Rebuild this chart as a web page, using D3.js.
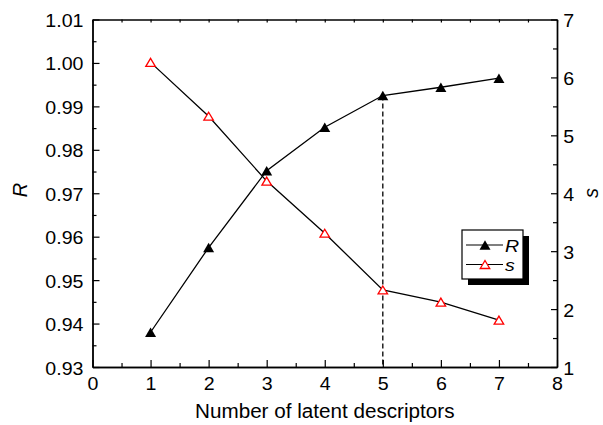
<!DOCTYPE html>
<html>
<head>
<meta charset="utf-8">
<script src="https://cdn.jsdelivr.net/npm/d3@7"></script>
<style>
  html, body { margin: 0; padding: 0; background: #fff; }
  svg { display: block; }
  text { font-family: "Liberation Sans", Arial, Helvetica, sans-serif; fill: #000; }
</style>
</head>
<body>
<svg id="chart" width="603" height="425"></svg>
<script>
// ---- data ----
const descriptors = [1, 2, 3, 4, 5, 6, 7];
const Rvalues = [0.938, 0.9575, 0.9752, 0.9852, 0.9925, 0.9944, 0.9965];
const Svalues = [6.26, 5.33, 4.21, 3.31, 2.33, 2.12, 1.81];
const xTicks = [0, 1, 2, 3, 4, 5, 6, 7, 8];
const leftTicks = [0.93, 0.94, 0.95, 0.96, 0.97, 0.98, 0.99, 1.00, 1.01];
const rightTicks = [1, 2, 3, 4, 5, 6, 7];
const selectedN = 5;

// ---- layout ----
const svg = d3.select("#chart");
const L = 92.5, Rr = 557, T = 19.5, B = 367;
const SX = 1.06; // horizontal stretch of text in the reference
const FS = "18.5px";

const x = d3.scaleLinear().domain([0, 8]).range([L, Rr]);
const yL = d3.scaleLinear().domain([0.93, 1.01]).range([B, T]);
const yR = d3.scaleLinear().domain([1, 7]).range([B, T]);

const minorX = d3.range(0, 8.01, 0.5).filter(v => v % 1 !== 0);
const minorL = d3.range(0, 8).map(i => 0.935 + i * 0.01);
const minorR = d3.range(1, 7).map(v => v + 0.5);

function styleAxis(g) {
  g.selectAll("path.domain").attr("stroke", "#000").attr("stroke-width", 1.4);
  g.selectAll("line").attr("stroke", "#000").attr("stroke-width", 1.2);
  g.selectAll("text").style("font-size", FS).attr("fill", "#000")
    .attr("font-family", "Liberation Sans, Arial, sans-serif");
}

// bottom axis
const gB = svg.append("g").attr("transform", `translate(0,${B})`)
  .call(d3.axisBottom(x).tickValues(xTicks).tickFormat(d3.format("d"))
    .tickSize(-7).tickSizeOuter(0).tickPadding(10));
styleAxis(gB);
gB.selectAll("text").attr("transform", `scale(${SX},1)`);
const gBm = svg.append("g").attr("transform", `translate(0,${B})`)
  .call(d3.axisBottom(x).tickValues(minorX).tickFormat("").tickSize(-4).tickSizeOuter(0));
styleAxis(gBm);

// top axis (ticks only)
const gT = svg.append("g").attr("transform", `translate(0,${T})`)
  .call(d3.axisTop(x).tickValues(d3.range(0, 8.01, 0.5)).tickFormat("").tickSize(-3).tickSizeOuter(0));
styleAxis(gT);

// left axis
const gL = svg.append("g").attr("transform", `translate(${L},0)`)
  .call(d3.axisLeft(yL).tickValues(leftTicks).tickFormat(d3.format(".2f"))
    .tickSize(-7).tickSizeOuter(0).tickPadding(8.5));
styleAxis(gL);
gL.selectAll("text").attr("dy", "0.38em").attr("transform", `scale(${SX},1)`);
const gLm = svg.append("g").attr("transform", `translate(${L},0)`)
  .call(d3.axisLeft(yL).tickValues(minorL).tickFormat("").tickSize(-4).tickSizeOuter(0));
styleAxis(gLm);

// right axis
const gR = svg.append("g").attr("transform", `translate(${Rr},0)`)
  .call(d3.axisRight(yR).tickValues(rightTicks).tickFormat(d3.format("d"))
    .tickSize(-6).tickSizeOuter(0).tickPadding(6));
styleAxis(gR);
gR.selectAll("text").attr("dy", "0.38em").attr("transform", `scale(${SX},1)`);
const gRm = svg.append("g").attr("transform", `translate(${Rr},0)`)
  .call(d3.axisRight(yR).tickValues(minorR).tickFormat("").tickSize(-4).tickSizeOuter(0));
styleAxis(gRm);

// axis titles
svg.append("text")
  .attr("transform", `translate(${(L + Rr) / 2},418) scale(1.06,1)`)
  .attr("text-anchor", "middle").style("font-size", "19.5px")
  .text("Number of latent descriptors");
svg.append("text")
  .attr("transform", `translate(27,190) rotate(-90)`)
  .attr("text-anchor", "middle").style("font-size", "20px").style("font-style", "italic")
  .text("R");
svg.append("text")
  .attr("transform", `translate(598,193) rotate(-90)`)
  .attr("text-anchor", "middle").style("font-size", "20px").style("font-style", "italic")
  .text("s");

// dashed marker line at selected number
svg.append("line")
  .attr("x1", x(selectedN)).attr("x2", x(selectedN))
  .attr("y1", yL(Rvalues[descriptors.indexOf(selectedN)])).attr("y2", B)
  .attr("stroke", "#000").attr("stroke-width", 1.3).attr("stroke-dasharray", "5,3");

// triangles
function tri(w, h) {
  return `M0,${-h / 2}L${w / 2},${h / 2}L${-w / 2},${h / 2}Z`;
}

const lineR = d3.line().x((d, i) => x(descriptors[i])).y(d => yL(d));
const lineS = d3.line().x((d, i) => x(descriptors[i])).y(d => yR(d));

svg.append("path").attr("d", lineR(Rvalues)).attr("fill", "none")
  .attr("stroke", "#000").attr("stroke-width", 1.3);
svg.append("path").attr("d", lineS(Svalues)).attr("fill", "none")
  .attr("stroke", "#000").attr("stroke-width", 1.3);

svg.selectAll(".mS").data(Svalues).enter().append("path")
  .attr("transform", (d, i) => `translate(${x(descriptors[i])},${yR(d)})`)
  .attr("d", tri(9.5, 8)).attr("fill", "#fff").attr("stroke", "#ff0000").attr("stroke-width", 1.3);
svg.selectAll(".mR").data(Rvalues).enter().append("path")
  .attr("transform", (d, i) => `translate(${x(descriptors[i])},${yL(d)})`)
  .attr("d", tri(11, 9.5)).attr("fill", "#000");

// legend
const lg = svg.append("g").attr("transform", "translate(462,230)");
lg.append("rect").attr("x", 6).attr("y", 6).attr("width", 61).attr("height", 49).attr("fill", "#000");
lg.append("rect").attr("x", 0).attr("y", 0).attr("width", 61).attr("height", 49)
  .attr("fill", "#fff").attr("stroke", "#000").attr("stroke-width", 1.2);
const legItems = [
  { label: "R", y: 15, filled: true },
  { label: "s", y: 34.5, filled: false }
];
legItems.forEach(it => {
  lg.append("line").attr("x1", 4).attr("x2", 41).attr("y1", it.y).attr("y2", it.y)
    .attr("stroke", "#000").attr("stroke-width", 1.2);
  const m = lg.append("path").attr("transform", `translate(23,${it.y})`);
  if (it.filled) m.attr("d", tri(11, 9.5)).attr("fill", "#000");
  else m.attr("d", tri(9.5, 8)).attr("fill", "#fff").attr("stroke", "#ff0000").attr("stroke-width", 1.3);
  lg.append("text").attr("transform", `translate(43,${it.y + 6.5}) scale(1.15,1)`)
    .style("font-size", "17px").style("font-style", "italic").text(it.label);
});
</script>
</body>
</html>
